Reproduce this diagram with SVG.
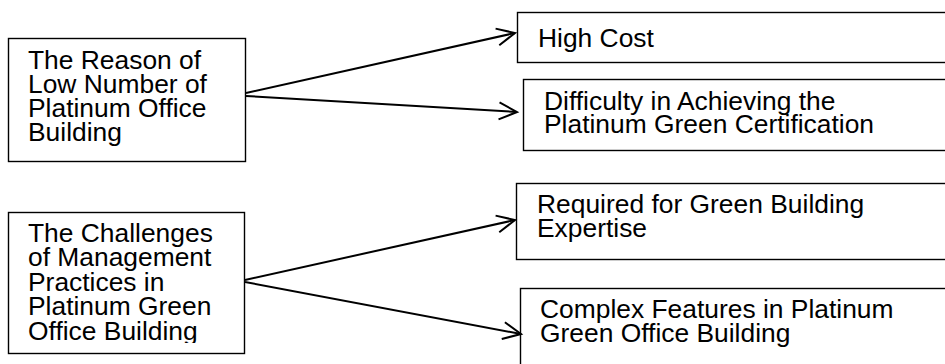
<svg xmlns="http://www.w3.org/2000/svg" width="945" height="364" viewBox="0 0 945 364">
<style>
.box{fill:#fff;stroke:#000;stroke-width:1.4}
.t{font-family:"Liberation Sans",Arial,sans-serif;font-size:26.4px;fill:#000}
.c{fill:none;stroke:#000;stroke-width:2}
</style>
<defs>
<marker id="ah" markerUnits="userSpaceOnUse" markerWidth="26" markerHeight="26" refX="20" refY="12" orient="auto" viewBox="0 0 26 24">
<path d="M2,3.5 L20,12 L2,20.5" fill="none" stroke="#000" stroke-width="2"/>
</marker>
<clipPath id="clip2"><rect x="8" y="212" width="237" height="131"/></clipPath>
</defs>
<rect width="945" height="364" fill="#fff"/>
<g id="n1">
<rect class="box" x="8.5" y="38.5" width="237" height="123"/>
<text class="t"><tspan x="28" y="69">The Reason of</tspan><tspan x="28" y="93">Low Number of</tspan><tspan x="28" y="117">Platinum Office</tspan><tspan x="28" y="141">Building</tspan></text>
</g>
<g id="n2">
<rect class="box" x="8.5" y="212.5" width="236" height="141"/>
<text class="t" clip-path="url(#clip2)"><tspan x="28" y="242">The Challenges</tspan><tspan x="28" y="266">of Management</tspan><tspan x="28" y="291">Practices in</tspan><tspan x="28" y="315">Platinum Green</tspan><tspan x="28" y="340">Office Building</tspan></text>
</g>
<g id="n3">
<rect class="box" x="517.5" y="12.5" width="440" height="50"/>
<text class="t" x="538" y="47">High Cost</text>
</g>
<g id="n4">
<rect class="box" x="523.5" y="79.5" width="440" height="71"/>
<text class="t"><tspan x="544" y="110">Difficulty in Achieving the</tspan><tspan x="544" y="133">Platinum Green Certification</tspan></text>
</g>
<g id="n5">
<rect class="box" x="516.5" y="183.5" width="440" height="76"/>
<text class="t"><tspan x="537" y="213">Required for Green Building</tspan><tspan x="537" y="237">Expertise</tspan></text>
</g>
<g id="n6">
<rect class="box" x="520.5" y="288.5" width="440" height="90"/>
<text class="t"><tspan x="540" y="318">Complex Features in Platinum</tspan><tspan x="540" y="342">Green Office Building</tspan></text>
</g>
<g id="connectors">
<line class="c" x1="246" y1="93" x2="515" y2="33" marker-end="url(#ah)"/>
<line class="c" x1="246" y1="96" x2="517" y2="112" marker-end="url(#ah)"/>
<line class="c" x1="245" y1="280" x2="515" y2="220" marker-end="url(#ah)"/>
<line class="c" x1="245" y1="282" x2="521" y2="334" marker-end="url(#ah)"/>
</g>
</svg>
